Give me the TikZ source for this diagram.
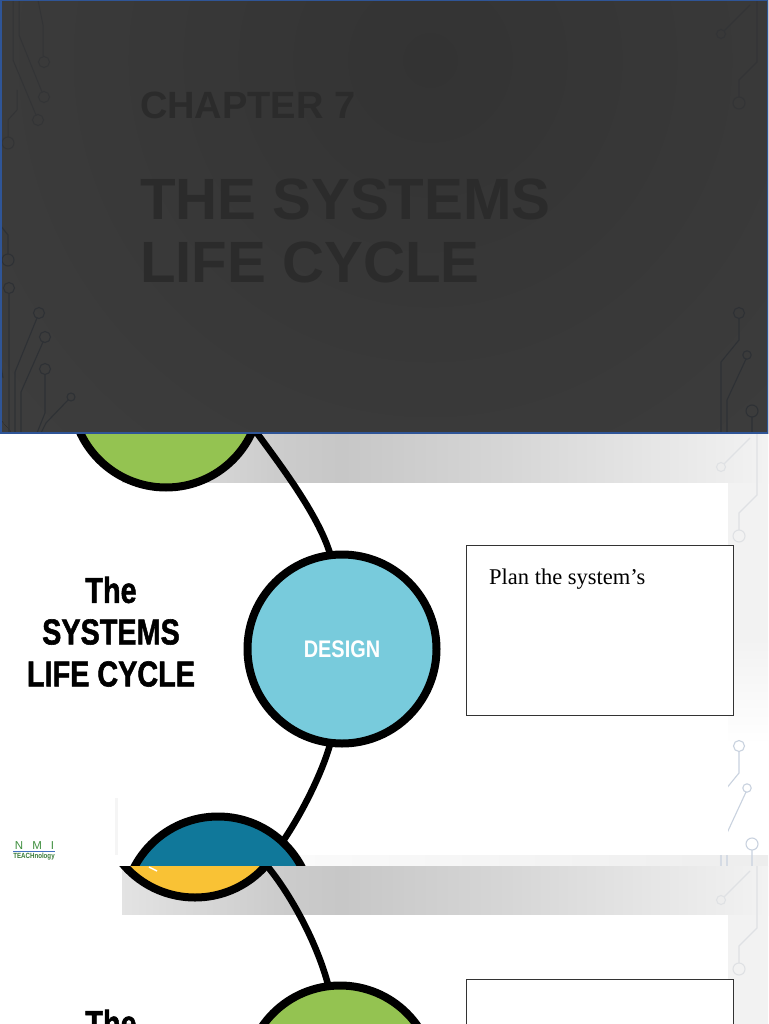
\documentclass[tikz,border=0pt]{standalone}
\usepackage{fontspec}
\usepackage{graphicx}
\setmainfont{Liberation Sans}
\newfontfamily\serifface{Liberation Serif}
\newfontfamily\heavyface[BoldFeatures={FakeBold=1.6}]{Liberation Sans}
\definecolor{slideblue}{HTML}{2F5597}
\definecolor{tealc}{HTML}{10789A}
\definecolor{designc}{HTML}{78CBDC}
\definecolor{greenc}{HTML}{94C351}
\definecolor{yellowc}{HTML}{F9C235}
\definecolor{logogreen}{HTML}{3F8F3F}
\definecolor{logoblue}{HTML}{4070C0}
\definecolor{tracelight}{HTML}{C9D2DF}
\definecolor{tracepale}{HTML}{DFE1E4}
\definecolor{tracedark}{HTML}{2E3135}
\definecolor{tracefaint}{HTML}{333436}
\definecolor{darktitle}{HTML}{2B2B2B}
\pgfdeclarehorizontalshading{bandgrad}{100bp}{
  rgb(0bp)=(.89,.89,.89);
  rgb(25bp)=(.89,.89,.89);
  rgb(37bp)=(.80,.80,.80);
  rgb(42bp)=(.78,.78,.78);
  rgb(55bp)=(.84,.84,.84);
  rgb(75bp)=(.95,.95,.95);
  rgb(100bp)=(.95,.95,.95)}
\tikzset{
  ring/.style={circle,draw=black,line width=8pt,minimum size=189pt,inner sep=0pt,outer sep=0pt},
  link/.style={draw=black,line width=6.5pt},
  titlemark/.style={anchor=base west,inner sep=0pt,outer sep=0pt,text=darktitle},
  sidetitle/.style={anchor=center,inner sep=0pt,font=\heavyface\fontsize{36}{36}\selectfont\bfseries},
  notebox/.style={draw=black!80,line width=1pt,fill=white,anchor=north west,minimum width=267pt,minimum height=170pt,inner sep=0pt,outer sep=0pt},
}
% right-hand circuit traces, drawn for a slide whose top edge is at y=0
\newcommand{\righttraces}[3]{%
  \begin{scope}[line width=#3,fill=none]
    \draw[#2] (721,34) circle (4.5) (724,31) -- (750,5);
    \draw[#2] (757,0) -- (757,62) -- (739,80) -- (739,97);
    \draw[#2] (739,103) circle (6);
    \draw[#1] (739,319) -- (739,340) -- (721,362) -- (721,433);
    \draw[#1] (739,313) circle (5.5);
    \draw[#1] (747,355) circle (4.2) (746,359) -- (727,400) -- (727,433);
    \draw[#1] (752,411) circle (6) (752,417) -- (752,433);
  \end{scope}}
\begin{document}
\begin{tikzpicture}[x=1pt,y=-1pt]
\useasboundingbox (0,0) rectangle (768,1024);
\fill[white] (0,0) rectangle (768,1024);

% ---------- second slide ----------
\begin{scope}
\clip (0,433) rectangle (768,866);
\shade[shading=bandgrad] (122,433) rectangle (768,483);
\fill[black!5] (728,483) rectangle (768,640);
\shade[top color=black!5,bottom color=white] (728,640) rectangle (768,745);
\shade[left color=white,right color=black!7] (113,855) rectangle (768,866);
\fill[black!4] (115,798) rectangle (118,855);
\begin{scope}[yshift=-433pt]
  \righttraces{tracelight}{tracepale}{1.1pt}
\end{scope}
\fill[white] (122,483) rectangle (728,855);
\node[ring,fill=greenc] (greenA) at (166,393) {};
\node[ring,fill=designc] (design) at (342,649)
  {\textcolor{white}{\fontsize{24}{24}\selectfont\bfseries\raisebox{-1pt}{\scalebox{.83}[1]{DESIGN}}}};
\node[ring,fill=tealc] (tealA) at (218,911) {};
\draw[link] (greenA.-22) .. controls +(20,28) and +(-12,-42) .. (design.97);
\draw[link] (design.-97) .. controls +(-8,30) and +(18,-26) .. (tealA.47);
\end{scope}

\node[sidetitle] (t1) at (111,590) {\scalebox{.8}[1]{The}};
\node[sidetitle] (t2) at (111,632) {\scalebox{.8}[1]{SYSTEMS}};
\node[sidetitle] (t3) at (111,674) {\scalebox{.8}[1]{LIFE CYCLE}};
\node[notebox] (plan) at (466,545) {};
\node[anchor=base west,inner sep=0pt,font=\serifface\fontsize{22.5}{24}\selectfont] (plantext) at (489,584) {Plan the system’s};

% logo
\node[anchor=base,inner sep=0pt,text=logogreen,font=\fontsize{11.5}{11.5}\selectfont] (logoa) at (34.5,849) {N\hspace{9pt}M\hspace{9pt}I};
\coordinate (logol) at (13,851);
\coordinate (logor) at (55,851);
\draw[logoblue,line width=.8pt] (logol) -- (logor);
\node[anchor=base,inner sep=0pt,text=logogreen!85!black,font=\fontsize{7.5}{8}\selectfont\bfseries] (logob) at (34,858) {\scalebox{.82}[1]{TEACHnology}};

% ---------- third slide ----------
\begin{scope}
\clip (0,866) rectangle (768,1024);
\fill[white] (0,866) rectangle (768,1024);
\shade[shading=bandgrad] (122,866) rectangle (768,915);
\fill[black!5] (728,915) rectangle (768,1024);
\begin{scope}[yshift=-866pt]
  \righttraces{tracelight}{tracepale}{1.1pt}
\end{scope}
\fill[white] (122,915) rectangle (728,1024);
\node[ring,fill=yellowc] (yellowA) at (195,803) {};
\node[ring,fill=greenc] (greenB) at (340,1080) {};
\coordinate (glintA) at (149,867);
\coordinate (glintB) at (157,871);
\draw[white,line width=1.5pt] (glintA) -- (glintB);
\draw[link] (yellowA.-41) .. controls +(22,26) and +(-12,-46) .. (greenB.97);
\node[sidetitle] (t4) at (111,1023) {\scalebox{.8}[1]{The}};
\node[notebox] (planB) at (466,979) {};
\end{scope}

% ---------- first slide (dark) ----------
\begin{scope}
\clip (0,0) rectangle (768,433);
\fill[black!76] (0,0) rectangle (768,433);
\fill[inner color=black!80,outer color=black!76] (430,60) circle (560);
\righttraces{tracedark}{tracefaint}{1.1pt}
\begin{scope}[draw=tracedark,line width=1.1pt]
  \draw (39,313) circle (5.5) (37,318) -- (15,372) -- (15,433);
  \draw (45,337) circle (5.5) (43,342) -- (21,392) -- (21,433);
  \draw (45,369) circle (5.5) (45,375) -- (45,413) -- (37,433);
  \draw (71,397) circle (4) (68,400) -- (46,423) -- (41,433);
  \draw (9,288) circle (5.5) (9,294) -- (9,433);
  \draw (8,260) circle (6) (8,254) -- (8,235) -- (0,225);
  \draw (0,360) -- (3,378);
\end{scope}
\begin{scope}[draw=tracefaint,line width=1pt]
  \draw (8,143) circle (6) (8,137) -- (8,120) -- (17,110) -- (17,90);
  \draw (38,120) circle (5.5) (36,115) -- (13,60) -- (13,0);
  \draw (44,97) circle (5.5) (42,92) -- (19,35) -- (19,0);
  \draw (44,62) circle (5.5) (43,56) -- (43,25) -- (38,0);
\end{scope}
\node[titlemark,font=\fontsize{38}{38}\selectfont\bfseries] (chap) at (140,119) {CHAPTER 7};
\node[titlemark,font=\fontsize{58.2}{58.2}\selectfont\bfseries] (sys) at (140,219) {THE SYSTEMS};
\node[titlemark,font=\fontsize{58.2}{58.2}\selectfont\bfseries] (life) at (140,282) {LIFE CYCLE};
\end{scope}
\draw[slideblue,line width=1.5pt] (0.75,0.75) rectangle (767.25,432.75);
\end{tikzpicture}
\end{document}
